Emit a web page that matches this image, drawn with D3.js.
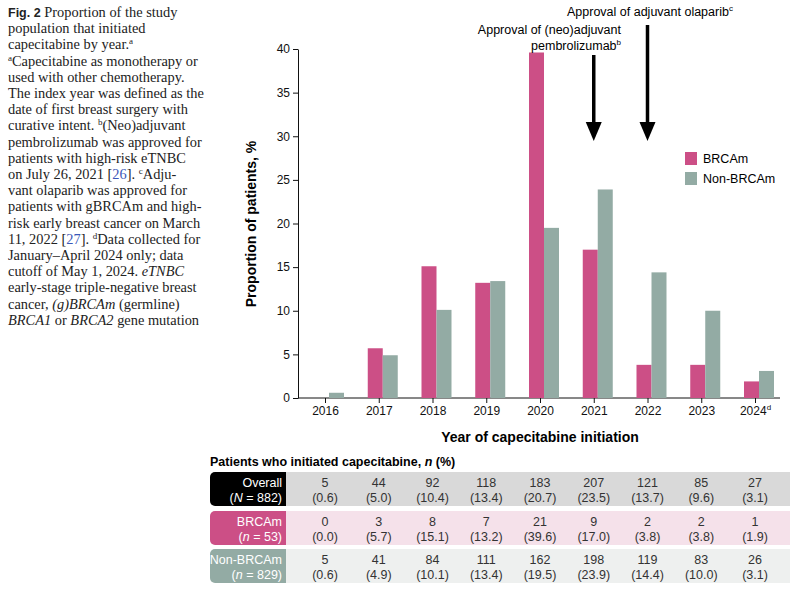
<!DOCTYPE html>
<html><head><meta charset="utf-8">
<script src="https://cdn.jsdelivr.net/npm/d3@7"></script>
<style>body{margin:0;background:#fff}</style>
</head><body><div class="container"></div>
<script>
var years = ["2016","2017","2018","2019","2020","2021","2022","2023","2024"];
var brcaPct = [0.0,5.7,15.1,13.2,39.6,17.0,3.8,3.8,1.9];
var nonPct = [0.6,4.9,10.1,13.4,19.5,23.9,14.4,10.0,3.1];
var overallN = [5,44,92,118,183,207,121,85,27];
var overallPct = ["0.6","5.0","10.4","13.4","20.7","23.5","13.7","9.6","3.1"];
var brcaN = [0,3,8,7,21,9,2,2,1];
var nonN = [5,41,84,111,162,198,119,83,26];
var yTicks = [0,5,10,15,20,25,30,35,40];
var caption = [
 [["b","Fig. 2"],["n","  Proportion of the study"]],
 [["n","population that initiated"]],
 [["n","capecitabine by year."],["s","a"]],
 [["s","a"],["n","Capecitabine as monotherapy or"]],
 [["n","used with other chemotherapy."]],
 [["n","The index year was defined as the"]],
 [["n","date of first breast surgery with"]],
 [["n","curative intent. "],["s","b"],["n","(Neo)adjuvant"]],
 [["n","pembrolizumab was approved for"]],
 [["n","patients with high-risk eTNBC"]],
 [["n","on July 26, 2021 ["],["l","26"],["n","]. "],["s","c"],["n","Adju-"]],
 [["n","vant olaparib was approved for"]],
 [["n","patients with gBRCAm and high-"]],
 [["n","risk early breast cancer on March"]],
 [["n","11, 2022 ["],["l","27"],["n","]. "],["s","d"],["n","Data collected for"]],
 [["n","January–April 2024 only; data"]],
 [["n","cutoff of May 1, 2024. "],["i","eTNBC"]],
 [["n","early-stage triple-negative breast"]],
 [["n","cancer, "],["i","(g)BRCAm"],["n"," (germline)"]],
 [["i","BRCA1"],["n"," or "],["i","BRCA2"],["n"," gene mutation"]]
];

var PINK = "#cc4f86", GRAY = "#93aba4";
var svg = d3.select(".container").append("svg").attr("width",800).attr("height",599)
  .style("font-family","Liberation Sans, Arial, sans-serif");

// caption
var cap = svg.append("g");
caption.forEach(function(line,i){
  var t = cap.append("text").attr("x",8).attr("y",17+i*16.2)
    .style("font-family","Liberation Serif, Times New Roman, serif").style("font-size","14.4px").attr("fill","#222");
  line.forEach(function(p,j){
    var s = t.append("tspan").text(p[1]);
    if(p[0]=="b") s.style("font-family","Liberation Sans, Arial").style("font-weight","bold").style("font-size","12.5px");
    if(p[0]=="i") s.style("font-style","italic");
    if(p[0]=="l") s.attr("fill","#3a57b8");
    if(p[0]=="s") s.attr("dy",-5).style("font-size","9px");
    if(j>0 && line[j-1][0]=="s") s.attr("dy",5);
  });
});

var x = d3.scalePoint().domain(years).range([325,755]);
var y = d3.scaleLinear().domain([0,40]).range([398,49]);

svg.append("g").attr("transform","translate(298,0)")
  .call(d3.axisLeft(y).tickValues(yTicks).tickSize(5).tickSizeOuter(0))
  .call(function(g){g.selectAll("text").style("font-size","12px").attr("fill","#111");});
var xa = svg.append("g").attr("transform","translate(0,398)")
  .call(d3.axisBottom(x).tickSize(5).tickFormat(function(d){return d;}))
  .call(function(g){g.selectAll("text").style("font-size","12px").attr("fill","#111");});
xa.select(".domain").attr("d","M298,0H780");
xa.selectAll(".tick text").filter(function(d){return d=="2024";})
  .append("tspan").attr("dy","-5").style("font-size","8px").text("d");
svg.selectAll(".domain,.tick line").attr("stroke","#111");

var bw = 15;
svg.append("g").selectAll("rect").data(years).enter().append("rect")
  .attr("x",function(d){return x(d)-11;}).attr("width",bw)
  .attr("y",function(d,i){return y(brcaPct[i]);})
  .attr("height",function(d,i){return y(0)-y(brcaPct[i]);}).attr("fill",PINK);
svg.append("g").selectAll("rect").data(years).enter().append("rect")
  .attr("x",function(d){return x(d)+4;}).attr("width",bw)
  .attr("y",function(d,i){return y(nonPct[i]);})
  .attr("height",function(d,i){return y(0)-y(nonPct[i]);}).attr("fill",GRAY);

svg.append("text").attr("transform","translate(256,224) rotate(-90)").attr("text-anchor","middle")
  .style("font-size","14px").style("font-weight","bold").text("Proportion of patients, %");
svg.append("text").attr("x",540).attr("y",442).attr("text-anchor","middle")
  .style("font-size","14px").style("font-weight","bold").text("Year of capecitabine initiation");

// legend
[["BRCAm",PINK],["Non-BRCAm",GRAY]].forEach(function(l,i){
  svg.append("rect").attr("x",685).attr("y",152+i*20).attr("width",12).attr("height",13).attr("fill",l[1]);
  svg.append("text").attr("x",703).attr("y",163+i*20).style("font-size","12.5px").text(l[0]);
});

// arrows
function arrow(xv,y0){
  var cx = x(xv);
  svg.append("line").attr("x1",cx).attr("x2",cx).attr("y1",y0).attr("y2",125)
    .attr("stroke","#000").attr("stroke-width",3.5);
  svg.append("path").attr("d","M"+(cx-8)+",122L"+(cx+8)+",122L"+cx+",141Z").attr("fill","#000");
}
arrow("2021",55); arrow("2022",25);
svg.append("text").attr("x",621).attr("y",34).attr("text-anchor","end").style("font-size","12.5px")
  .text("Approval of (neo)adjuvant");
var t2 = svg.append("text").attr("x",621).attr("y",50).attr("text-anchor","end").style("font-size","12.5px");
t2.append("tspan").text("pembrolizumab");
t2.append("tspan").attr("dy",-5).style("font-size","8px").text("b");
var t3 = svg.append("text").attr("x",567).attr("y",16).style("font-size","12.5px");
t3.append("tspan").text("Approval of adjuvant olaparib");
t3.append("tspan").attr("dy",-5).style("font-size","8px").text("c");

// table
var tt = svg.append("text").attr("x",210).attr("y",466).style("font-size","12.5px").style("font-weight","bold");
tt.append("tspan").text("Patients who initiated capecitabine, ");
tt.append("tspan").style("font-style","italic").text("n");
tt.append("tspan").text(" (%)");
var rows = [
  {l1:"Overall", l2:["(","N"," = 882)"], box:"#000", bg:"#d9d9d9", n:overallN, p:overallPct, y:472},
  {l1:"BRCAm", l2:["(","n"," = 53)"], box:PINK, bg:"#f5e1ea", n:brcaN, p:brcaPct.map(function(v){return v.toFixed(1);}), y:511},
  {l1:"Non-BRCAm", l2:["(","n"," = 829)"], box:GRAY, bg:"#eef0ef", n:nonN, p:nonPct.map(function(v){return v.toFixed(1);}), y:549}
];
rows.forEach(function(r){
  var g = svg.append("g");
  g.append("rect").attr("x",283).attr("y",r.y).attr("width",507).attr("height",34).attr("fill",r.bg);
  g.append("rect").attr("x",210).attr("y",r.y).attr("width",76).attr("height",34).attr("rx",5).attr("fill",r.box);
  g.append("rect").attr("x",278).attr("y",r.y).attr("width",8).attr("height",34).attr("fill",r.box);
  g.append("text").attr("x",282).attr("y",r.y+15).attr("text-anchor","end").attr("fill","#fff")
    .style("font-size","12.5px").text(r.l1);
  var t = g.append("text").attr("x",282).attr("y",r.y+30).attr("text-anchor","end").attr("fill","#fff")
    .style("font-size","12.5px");
  t.append("tspan").text(r.l2[0]); t.append("tspan").style("font-style","italic").text(r.l2[1]); t.append("tspan").text(r.l2[2]);
  years.forEach(function(yr,i){
    g.append("text").attr("x",x(yr)).attr("y",r.y+15).attr("text-anchor","middle").style("font-size","12.5px").attr("fill","#333").text(r.n[i]);
    g.append("text").attr("x",x(yr)).attr("y",r.y+30).attr("text-anchor","middle").style("font-size","12.5px").attr("fill","#333").text("("+r.p[i]+")");
  });
});
</script></body></html>
